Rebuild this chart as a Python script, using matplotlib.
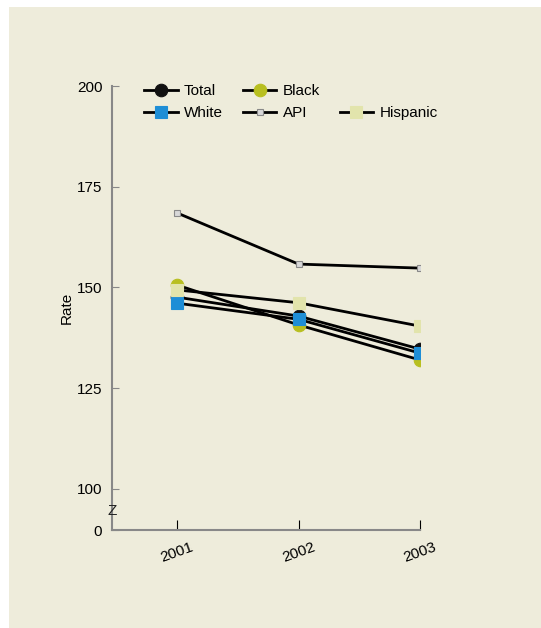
import matplotlib.pyplot as plt
from matplotlib.lines import Line2D

plt.rcParams['font.family'] = ['Liberation Sans', 'DejaVu Sans']

years = [2001, 2002, 2003]
year_labels = ['2001', '2002', '2003']
total = [147.6, 142.9, 134.7]
white = [146.1, 142.1, 133.7]
black = [150.6, 140.7, 132.0]
api = [168.5, 155.8, 154.8]
hispanic = [149.4, 146.2, 140.4]

y_ticks = [100, 125, 150, 175, 200]
y_zero = 89.8  # where the "0" sits below the axis break

bg = '#eeecdb'
fig = plt.figure(figsize=(5.41, 6.28), dpi=100, facecolor='white')
fig.patches.append(plt.Rectangle((9 / 541, 0), 1, 1 - 7 / 628, transform=fig.transFigure,
                                 facecolor=bg, edgecolor='none', zorder=-1))
ax = fig.add_axes([112 / 541, 1 - 530 / 628, (420 - 112) / 541, (530 - 86) / 628])
ax.set_facecolor(bg)

series = [
    ('Total', total, 'o', '#111111', '#111111', 9),
    ('Black', black, 'o', '#b8bf20', '#b8bf20', 9),
    ('White', white, 's', '#1e8ed6', '#1e8ed6', 8),
    ('API', api, 's', '#d8d8d8', '#888888', 5),
    ('Hispanic', hispanic, 's', '#e2e4ac', '#e2e4ac', 8),
]
handles = {}
for name, vals, m, fc, ec, ms in series:
    ln, = ax.plot(years, vals, color='black', lw=2, marker=m, markersize=ms,
                  markerfacecolor=fc, markeredgecolor=ec, markeredgewidth=0.8, label=name)
    handles[name] = ln

blank = Line2D([], [], color='none', label='')
order = [handles['Total'], handles['White'], handles['Black'], handles['API'], blank, handles['Hispanic']]
ax.legend(handles=order, labels=[h.get_label() for h in order], ncol=3, frameon=False,
          loc='upper left', bbox_to_anchor=(0.06, 1.035), fontsize=11, handlelength=2.2,
          columnspacing=1.3, labelspacing=0.5, handletextpad=0.4)

ax.set_xlim(2000.465, 2003)
ax.set_ylim(y_zero, 200)
ax.set_yticks([y_zero] + y_ticks)
ax.set_yticklabels(['0'] + [str(t) for t in y_ticks], fontsize=11)
ax.set_xticks(years)
ax.set_xticklabels(year_labels, rotation=20, fontsize=11)
ax.tick_params(axis='y', direction='in', length=5, color='#888888', pad=7)
ax.tick_params(axis='x', direction='in', length=7, color='black', pad=7)
for s in ['top', 'right']:
    ax.spines[s].set_visible(False)
for s in ['left', 'bottom']:
    ax.spines[s].set_color('#888888')
    ax.spines[s].set_linewidth(1.5)
ax.text(0.0, 94.5, 'Z', transform=ax.get_yaxis_transform(), ha='center', va='center',
        fontsize=11, color='#222222')
ax.set_ylabel('Rate', fontsize=11, labelpad=2)

fig.savefig('out.png', dpi=100, facecolor='white')
